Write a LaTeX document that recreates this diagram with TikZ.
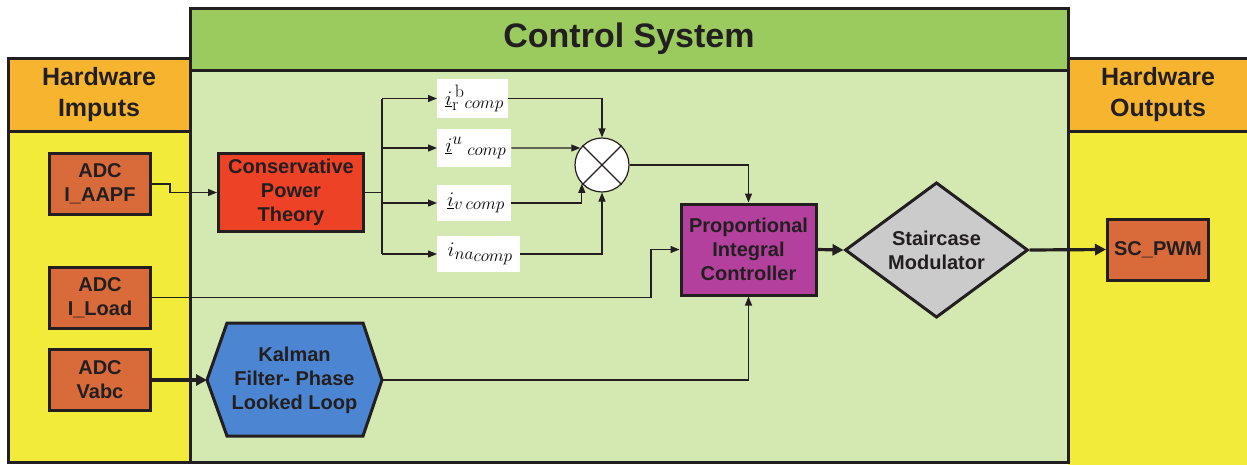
\documentclass[tikz,border=0pt]{standalone}
\usepackage{fontspec}
\setmainfont{Liberation Sans}
\setmathrm{Latin Modern Roman}
\DeclareMathSizes{22}{22}{18}{17}
\usetikzlibrary{arrows.meta,shapes.geometric}
\definecolor{ink}{HTML}{231F20}
\definecolor{hdrorange}{HTML}{F7B52F}
\definecolor{bodyyellow}{HTML}{F2EB3A}
\definecolor{hdrgreen}{HTML}{9BCB5F}
\definecolor{bodygreen}{HTML}{D4E8B2}
\definecolor{adcfill}{HTML}{D96B3B}
\definecolor{cptfill}{HTML}{EE4227}
\definecolor{pifill}{HTML}{B2409C}
\definecolor{kffill}{HTML}{4C86D2}
\definecolor{scfill}{HTML}{CBCBCB}
\tikzset{
  panel/.style={draw=ink,line width=3pt},
  hdrtext/.style={font=\fontsize{25}{31}\selectfont\bfseries,text=ink,align=center},
  blocktext/.style={font=\fontsize{20}{24}\selectfont\bfseries,text=ink,align=center},
  adcbox/.style={draw=ink,line width=3pt,fill=adcfill,minimum width=101pt,minimum height=61pt,inner sep=0pt,blocktext},
  mathlab/.style={fill=white,inner sep=0pt,anchor=west,font=\fontsize{22}{26}\selectfont},
  wire/.style={draw=ink,line width=1.2pt},
  tip/.style={wire,-{Triangle[length=9pt,width=7pt]}},
  thicktip/.style={draw=ink,line width=3.2pt,-{Triangle[length=11pt,width=11pt]}},
}
\begin{document}
\begin{tikzpicture}[x=1pt,y=-1pt]
\useasboundingbox (0,0) rectangle (1247,464);
\clip (0,0) rectangle (1247,464);

% hardware input panel
\fill[bodyyellow] (8,58) rectangle (190,462);
\fill[hdrorange] (8,58) rectangle (190,131);
\draw[panel] (8,58) rectangle (190,462);
\draw[panel] (8,131) -- (190,131);
\node[hdrtext] (intitle) at (99,95) {Hardware\\Imputs};

% hardware output panel
\fill[bodyyellow] (1068,58) rectangle (1260,480);
\fill[hdrorange] (1068,58) rectangle (1260,131);
\draw[panel] (1068,58) -- (1260,58);
\draw[panel] (1068,131) -- (1260,131);
\node[hdrtext] (outtitle) at (1158,95) {Hardware\\Outputs};

% control system panel
\fill[bodygreen] (190,8) rectangle (1068,462);
\fill[hdrgreen] (190,8) rectangle (1068,70);
\draw[panel] (190,8) rectangle (1068,462);
\draw[panel] (190,70) -- (1068,70);
\node[font=\fontsize{34}{40}\selectfont\bfseries,text=ink] (ctitle) at (629,39) {Control System};

% input converters
\node[adcbox] (aapf) at (100,184) {ADC\\I\_AAPF};
\node[adcbox] (iload) at (100,297.5) {ADC\\I\_Load};
\node[adcbox] (vabc) at (100,380) {ADC\\Vabc};

% output block
\node[adcbox] (pwm) at (1158,249.5) {SC\_PWM};

% conservative power theory block
\node[draw=ink,line width=3pt,fill=cptfill,minimum width=145pt,minimum height=78pt,inner sep=0pt,blocktext] (cpt) at (291,192.5) {Conservative\\Power\\Theory};

% proportional integral controller
\node[draw=ink,line width=3pt,fill=pifill,minimum width=135pt,minimum height=91pt,inner sep=0pt,blocktext] (pi) at (748.5,249.5) {Proportional\\Integral\\Controller};

% staircase modulator
\node[diamond,draw=ink,line width=3pt,fill=scfill,minimum width=183pt,minimum height=112pt,inner sep=0pt,blocktext] (sm) at (936.5,250) {Staircase\\Modulator};

% Kalman filter PLL (hexagon)
\coordinate (kfw) at (207,380);
\coordinate (kfe) at (382,380);
\filldraw[draw=ink,line width=3pt,fill=kffill,line join=miter]
  (kfw) -- (227,323) -- (363,323) -- (kfe) -- (363,436) -- (227,436) -- cycle;
\node[blocktext] (kf) at (294.5,380) {Kalman\\Filter- Phase\\Looked Loop};

% current component labels
\node[mathlab,minimum width=71pt,minimum height=39pt] (lr) at (437,98.5) {$\,\underline{i}^{\,\mathrm{b}}_{\mathrm{r}}{}_{comp}$};
\node[mathlab,minimum width=74pt,minimum height=38pt] (lu) at (437,148) {$\,\underline{i}^{u}{}_{\;comp}$};
\node[mathlab,minimum width=74pt,minimum height=36pt] (lv) at (437,203) {$\,\underline{i}_{v\,comp}$};
\node[mathlab,minimum width=83pt,minimum height=36pt] (lna) at (437,254) {$\,i_{na_{comp}}$};

% summing junction
\node[circle,draw=ink,line width=1.2pt,fill=white,minimum size=54pt,inner sep=0pt] (sum) at (602,165) {};
\draw[wire] (sum.45) -- (sum.225);
\draw[wire] (sum.135) -- (sum.315);

% branch point after CPT
\coordinate (bus) at (382,192.5);
\coordinate (bustop) at (382,98.5);
\coordinate (busbot) at (382,254);
\draw[wire] (cpt.east) -- (bus);
\draw[wire] (bustop) -- (busbot);
\draw[tip] (bustop) -- (lr.west);
\draw[tip] (382,148) -- (lu.west);
\draw[tip] (382,203) -- (lv.west);
\draw[tip] (busbot) -- (lna.west);

% labels into summing junction
\draw[tip] (lr.east) -| (sum.north);
\draw[tip] (lu.east) -- (sum.142);
\draw[tip] (lv.east) -| (sum.223);
\draw[tip] (lna.east) -| (sum.south);

% summing junction into PI
\draw[tip] (sum.east) -| (pi.north);

% I_AAPF into CPT
\coordinate (aapfk1) at (170,184);
\coordinate (aapfk2) at (170,192.5);
\draw[tip] (aapf.east) -- (aapfk1) -- (aapfk2) -- (cpt.west);

% I_Load into PI
\coordinate (loadk) at (651,297.5);
\draw[tip] (iload.east) -- (loadk) |- (pi.west);

% Vabc into Kalman filter, Kalman filter into PI
\draw[thicktip] (vabc.east) -- (kfw);
\draw[tip] (kfe) -| (pi.south);

% PI into modulator, modulator into PWM output
\draw[thicktip] (pi.east) -- (sm.west);
\draw[thicktip] (sm.east) -- (pwm.west);
\end{tikzpicture}
\end{document}
